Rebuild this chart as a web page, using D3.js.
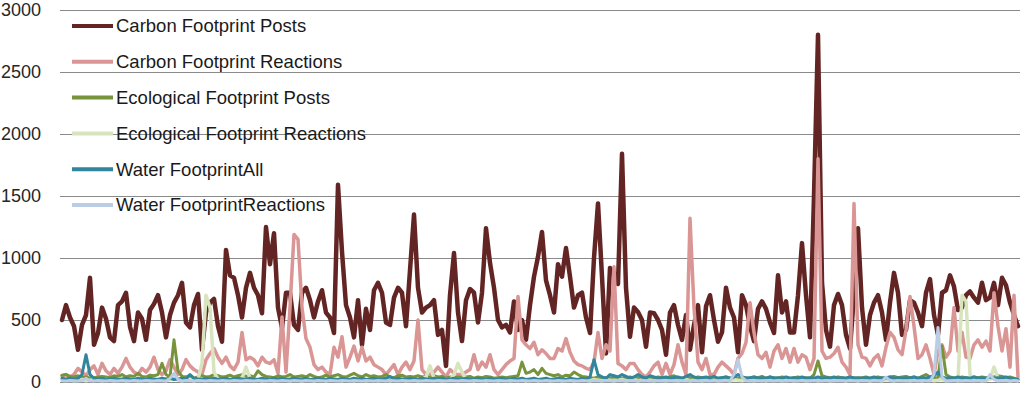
<!DOCTYPE html>
<html>
<head>
<meta charset="utf-8">
<script src="https://cdn.jsdelivr.net/npm/d3@7"></script>
<style>
  html, body { margin: 0; padding: 0; background: #fff; }
  svg { display: block; }
</style>
</head>
<body>
<svg id="chart"></svg>
<script>
// series names, in draw order
const seriesNames = [
  "Carbon Footprint Posts",
  "Carbon Footprint Reactions",
  "Ecological Footprint Posts",
  "Ecological Footprint Reactions",
  "Water FootprintAll",
  "Water FootprintReactions"
];
const seriesColors = ["#632523", "#d99694", "#77933c", "#d7e4bd", "#31859c", "#b9cde5"];
const yTicks = [0, 500, 1000, 1500, 2000, 2500, 3000];

// daily values
const carbonPosts = [
  500, 620, 520, 450, 260, 460, 540, 840, 300, 395,
  600, 510, 360, 330, 620, 650, 720, 445, 330, 560,
  510, 340, 580, 630, 700, 560, 360, 540, 640, 700,
  800, 480, 440, 620, 710, 260, 560, 640, 670, 450,
  325, 1065, 860, 840, 700, 520, 760, 880, 760, 700,
  555, 1250, 950, 1200, 600, 435, 720, 720, 460, 420,
  720, 760, 660, 520, 650, 740, 560, 520, 395, 1590,
  1050, 620, 520, 360, 660, 300, 590, 420, 740, 800,
  720, 480, 460, 680, 760, 720, 450, 900, 1350, 760,
  560, 600, 620, 660, 380, 420, 130, 700, 1040, 560,
  330, 660, 750, 720, 480, 720, 1240, 960, 760, 500,
  440, 460, 400, 650, 420, 500, 340, 620, 850, 1010,
  1210, 820, 700, 560, 950, 850, 1080, 850, 600, 700,
  720, 520, 395, 1000, 1440, 850, 230, 920, 880, 790,
  1840, 760, 365, 600, 565, 500, 285, 560, 555, 500,
  420, 220, 560, 620, 460, 340, 540, 260, 460, 620,
  240, 610, 700, 500, 325, 400, 760, 600, 520, 240,
  700, 620, 450, 330, 590, 650, 590, 480, 395, 860,
  560, 650, 400, 400, 700, 1120, 700, 360, 1500, 2800,
  800, 420, 285, 620, 710, 620, 380, 270, 700, 1240,
  600, 300, 540, 640, 700, 560, 340, 640, 880, 720,
  380, 420, 660, 640, 560, 450, 720, 830, 540, 380,
  720, 740, 860, 770, 580, 600, 700, 730, 680, 640,
  800, 660, 680, 800, 620, 840, 780, 640, 540, 450
];
const carbonReactions = [
  50, 60, 40, 60, 110, 80, 50, 100, 130, 60,
  150, 90, 60, 110, 70, 120, 190, 120, 80, 60,
  110, 80, 120, 200, 100, 60, 90, 180, 120, 60,
  100, 180, 130, 100, 80, 60, 180, 230, 270, 200,
  150, 200, 130, 100, 160, 400, 180, 200, 180, 130,
  200, 160, 150, 180, 70, 525, 80, 600, 1190, 1150,
  600, 350, 280, 140, 100, 120, 80, 60, 280, 200,
  365, 120, 200, 290, 170, 280, 170, 200, 140, 120,
  100, 60, 100, 140, 60, 120, 160, 100, 170, 500,
  100, 60, 60, 80, 120, 80, 40, 100, 70, 60,
  60, 80, 100, 220, 100, 160, 120, 220, 100, 60,
  100, 140, 170, 190, 690, 340, 300, 270, 320, 220,
  260, 230, 190, 190, 270, 250, 350, 240, 170, 140,
  130, 110, 100, 160, 400, 190, 300, 250, 930, 150,
  130, 100, 150, 150, 100, 60, 40, 80, 130, 160,
  60, 150, 60, 140, 300, 160, 60, 1320, 600, 160,
  100, 190, 60, 60, 120, 160, 130, 100, 60, 190,
  230, 320, 640, 400, 220, 190, 240, 120, 250, 300,
  190, 270, 160, 270, 160, 220, 200, 100, 190, 1800,
  250, 190, 200, 230, 280, 160, 120, 60, 1440, 300,
  200, 190, 130, 190, 220, 130, 280, 400, 360, 260,
  220, 420, 690, 450, 190, 220, 300, 190, 60, 250,
  300, 200, 250, 600, 250, 400, 200, 190, 300, 340,
  280, 330, 250, 720, 450, 250, 430, 120, 700, 40
];
const ecoPosts = [
  55, 60, 45, 40, 50, 35, 40, 30, 35, 40,
  45, 40, 35, 50, 45, 60, 40, 50, 45, 70,
  45, 40, 55, 50, 60, 150, 60, 40, 340, 90,
  45, 40, 50, 30, 40, 50, 40, 45, 60, 50,
  40, 45, 55, 40, 50, 60, 45, 50, 40, 90,
  60, 45, 40, 35, 50, 40, 45, 60, 40, 45,
  50, 40, 60, 45, 35, 40, 55, 40, 50, 60,
  45, 40, 55, 70, 50, 40, 60, 45, 50, 40,
  45, 60, 40, 35, 50, 55, 40, 45, 40, 50,
  40, 45, 35, 50, 40, 45, 30, 40, 35, 40,
  35, 40, 45, 30, 40, 35, 45, 40, 30, 35,
  40, 35, 40, 45, 50, 160, 70, 80, 100, 60,
  110, 70, 60, 50, 60, 40, 55, 50, 80, 60,
  45, 40, 35, 30, 40, 30, 35, 30, 40, 35,
  30, 35, 40, 30, 35, 40, 30, 35, 30, 40,
  35, 30, 40, 50, 35, 30, 40, 35, 30, 40,
  35, 30, 40, 35, 30, 35, 40, 30, 35, 30,
  40, 35, 30, 40, 35, 45, 30, 40, 35, 30,
  40, 35, 30, 35, 40, 30, 35, 30, 60, 170,
  50, 40, 35, 30, 40, 35, 30, 40, 35, 30,
  35, 40, 30, 35, 40, 30, 35, 40, 45, 35,
  40, 45, 35, 40, 30, 45, 60, 40, 35, 30,
  290, 60, 40, 35, 30, 40, 35, 30, 40, 35,
  40, 35, 30, 40, 50, 45, 35, 40, 30, 20
];
const ecoReactions = [
  20, 15, 20, 10, 15, 20, 10, 15, 20, 15,
  10, 20, 15, 10, 20, 15, 10, 15, 20, 10,
  15, 20, 10, 15, 20, 15, 10, 20, 30, 15,
  10, 20, 15, 10, 20, 150, 700, 600, 80, 20,
  15, 10, 20, 15, 20, 30, 120, 30, 15, 20,
  10, 15, 20, 10, 15, 20, 15, 10, 20, 15,
  10, 15, 20, 10, 15, 20, 10, 15, 20, 15,
  10, 20, 15, 10, 20, 15, 10, 15, 20, 10,
  15, 20, 10, 15, 20, 15, 10, 20, 15, 10,
  20, 40, 130, 30, 15, 10, 20, 15, 60, 150,
  80, 20, 15, 10, 20, 15, 10, 15, 20, 10,
  15, 20, 10, 15, 20, 15, 10, 20, 15, 10,
  20, 15, 10, 15, 20, 10, 15, 20, 10, 15,
  20, 15, 10, 20, 15, 10, 20, 15, 10, 15,
  20, 10, 15, 20, 10, 15, 20, 15, 10, 20,
  15, 10, 20, 15, 10, 15, 20, 10, 15, 20,
  10, 15, 20, 15, 10, 20, 15, 10, 20, 15,
  10, 15, 20, 10, 15, 20, 10, 15, 20, 15,
  10, 20, 15, 10, 20, 15, 10, 15, 20, 10,
  15, 20, 10, 15, 20, 15, 10, 20, 15, 10,
  20, 15, 10, 15, 20, 10, 15, 20, 10, 15,
  20, 15, 10, 20, 15, 10, 20, 15, 10, 15,
  20, 10, 15, 20, 10, 700, 650, 60, 15, 20,
  10, 15, 20, 120, 30, 15, 20, 10, 15, 10
];
const waterAll = [
  30, 25, 30, 20, 30, 60, 220, 60, 30, 25,
  30, 20, 25, 30, 20, 25, 30, 25, 20, 30,
  25, 20, 30, 25, 20, 30, 25, 30, 20, 25,
  30, 25, 60, 30, 25, 20, 30, 25, 30, 20,
  25, 30, 20, 25, 30, 25, 20, 30, 25, 20,
  30, 25, 20, 30, 25, 30, 20, 25, 30, 20,
  25, 30, 20, 25, 30, 25, 20, 30, 25, 20,
  30, 25, 20, 30, 25, 30, 20, 25, 30, 20,
  25, 30, 45, 25, 30, 25, 20, 30, 25, 20,
  30, 25, 20, 30, 25, 30, 20, 25, 30, 20,
  25, 30, 20, 25, 30, 25, 20, 30, 25, 20,
  30, 25, 20, 30, 25, 30, 20, 25, 30, 20,
  25, 30, 20, 25, 30, 25, 20, 30, 25, 20,
  30, 25, 40, 180, 60, 40, 30, 60, 50, 40,
  60, 45, 30, 40, 60, 40, 30, 50, 40, 30,
  35, 40, 30, 35, 40, 30, 45, 60, 40, 30,
  35, 40, 30, 45, 30, 35, 40, 30, 40, 60,
  40, 30, 35, 40, 30, 35, 30, 40, 30, 35,
  30, 40, 30, 35, 30, 40, 30, 35, 30, 40,
  30, 35, 30, 40, 30, 35, 30, 40, 30, 35,
  30, 35, 30, 40, 30, 35, 30, 40, 30, 35,
  30, 35, 30, 40, 30, 35, 30, 40, 50, 80,
  40, 30, 35, 30, 40, 30, 35, 30, 40, 30,
  35, 30, 40, 30, 35, 30, 40, 30, 25, 20
];
const waterReactions = [
  10, 8, 12, 10, 8, 12, 30, 10, 8, 12,
  10, 8, 12, 10, 8, 12, 10, 8, 12, 10,
  8, 12, 10, 8, 12, 10, 8, 30, 70, 20,
  8, 12, 10, 8, 12, 10, 8, 12, 10, 8,
  12, 10, 8, 12, 10, 8, 12, 10, 8, 12,
  10, 8, 12, 10, 8, 12, 10, 8, 12, 10,
  8, 12, 10, 8, 12, 10, 8, 12, 10, 8,
  12, 10, 8, 12, 10, 8, 12, 10, 8, 12,
  10, 8, 12, 10, 8, 12, 10, 8, 12, 10,
  8, 12, 10, 8, 12, 10, 8, 12, 10, 8,
  12, 10, 8, 12, 10, 8, 12, 10, 8, 12,
  10, 8, 12, 10, 8, 12, 10, 8, 12, 10,
  8, 12, 10, 8, 12, 10, 8, 12, 10, 8,
  12, 10, 8, 12, 10, 8, 12, 10, 8, 12,
  10, 8, 12, 10, 8, 12, 10, 8, 12, 10,
  8, 12, 10, 8, 12, 10, 8, 12, 10, 8,
  12, 10, 8, 12, 10, 8, 12, 10, 60, 180,
  40, 10, 8, 12, 10, 8, 12, 10, 8, 12,
  10, 8, 12, 10, 8, 12, 10, 8, 12, 10,
  8, 12, 10, 8, 12, 10, 8, 12, 10, 8,
  12, 10, 8, 12, 10, 8, 40, 10, 8, 12,
  10, 8, 12, 10, 8, 12, 10, 8, 60, 440,
  40, 10, 8, 12, 10, 8, 12, 10, 8, 12,
  10, 8, 60, 20, 8, 12, 10, 8, 12, 10
];

const allSeries = [carbonPosts, carbonReactions, ecoPosts, ecoReactions, waterAll, waterReactions];
const lineWidths = [4.5, 3.5, 3, 3.5, 3, 3];

const width = 1024;
const height = 394;
const margin = { top: 10, right: 6, bottom: 12, left: 62 };

const $svg = d3.select("#chart").attr("width", width).attr("height", height);

const x = d3.scaleLinear()
  .domain([0, carbonPosts.length - 1])
  .range([margin.left, width - margin.right]);
const y = d3.scaleLinear()
  .domain([0, 3000])
  .range([height - margin.bottom, margin.top]);

// gridlines + tick labels
const $axis = $svg.append("g")
  .attr("transform", `translate(${margin.left},0)`)
  .call(d3.axisLeft(y)
    .tickValues(yTicks)
    .tickSize(-(width - margin.right - margin.left + 2))
    .tickPadding(21)
    .tickFormat(d3.format("d")));
$axis.select(".domain").remove();
$axis.selectAll(".tick line")
  .attr("stroke", "#8a8a8a")
  .attr("stroke-width", 1)
  .attr("x1", -2);
$axis.selectAll(".tick text")
  .attr("fill", "#262626")
  .style("font-family", "'Liberation Sans', Arial, sans-serif")
  .style("font-size", "18px");

// lines
const line = d3.line()
  .x((d, i) => x(i))
  .y((d) => y(d));

$svg.append("g")
  .selectAll("path")
  .data(allSeries)
  .join("path")
  .attr("d", line)
  .attr("fill", "none")
  .attr("stroke", (d, i) => seriesColors[i])
  .attr("stroke-width", (d, i) => lineWidths[i])
  .attr("stroke-linejoin", "round")
  .attr("stroke-linecap", "round");

// legend, top-left inside the plot
const $legend = $svg.append("g").attr("transform", "translate(72,26)");
const $items = $legend.selectAll("g")
  .data(seriesNames)
  .join("g")
  .attr("transform", (d, i) => `translate(0,${i * 35.8})`);
$items.append("line")
  .attr("x1", 0).attr("x2", 41)
  .attr("stroke", (d, i) => seriesColors[i])
  .attr("stroke-width", 4);
$items.append("text")
  .attr("x", 44)
  .attr("dy", "0.35em")
  .attr("fill", "#1a1a1a")
  .style("font-family", "'Liberation Sans', Arial, sans-serif")
  .style("font-size", "18.5px")
  .text((d) => d);
</script>
</body>
</html>
